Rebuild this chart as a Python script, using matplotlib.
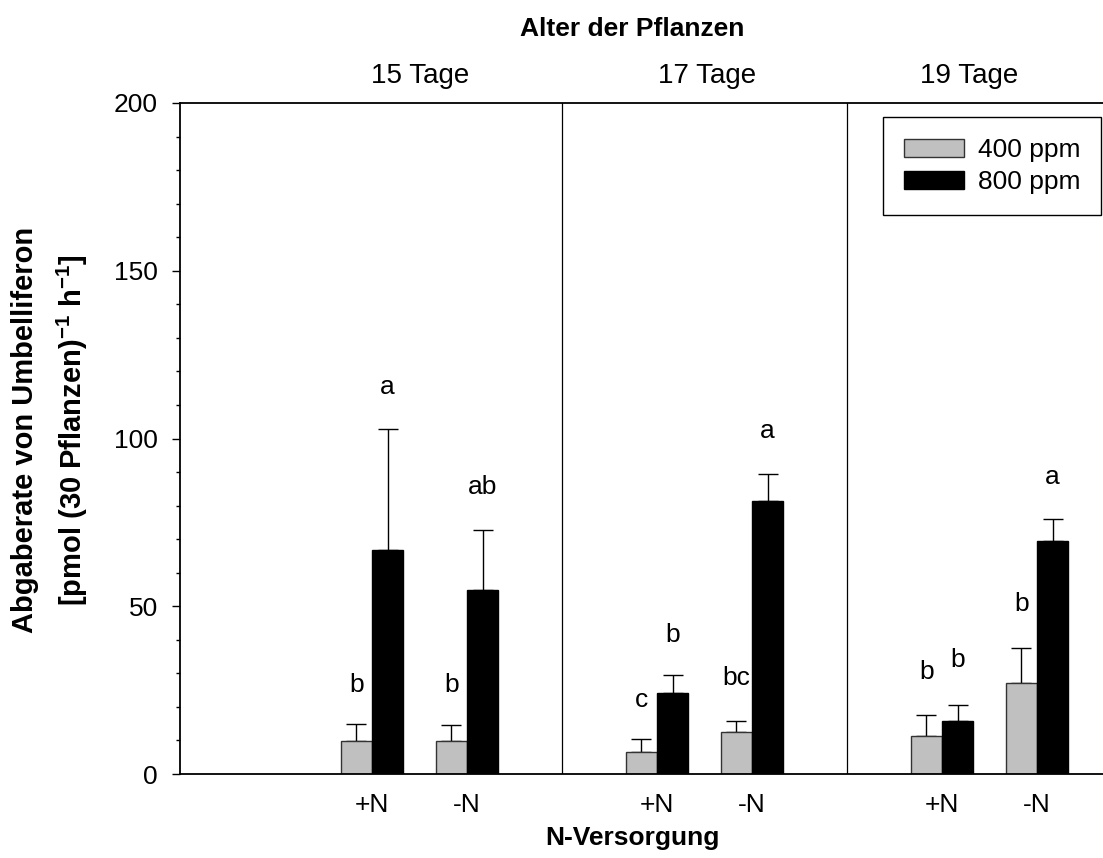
import numpy as np
import matplotlib
matplotlib.use("Agg")
from matplotlib import pyplot as plt
from matplotlib.patches import Patch
from matplotlib.transforms import blended_transform_factory

plt.rcParams['font.family'] = ['Liberation Sans', 'DejaVu Sans']
plt.rcParams['mathtext.fontset'] = 'custom'
plt.rcParams['mathtext.rm'] = 'Liberation Sans'
plt.rcParams['mathtext.bf'] = 'Liberation Sans:bold'

# data
ages = ['15 Tage', '17 Tage', '19 Tage']
n_labels = ['+N', '-N', '+N', '-N', '+N', '-N']
ppm400 = [9.8, 9.8, 6.5, 12.5, 11.4, 27.0]
ppm400_err = [5.1, 4.8, 3.8, 3.4, 6.2, 10.5]
ppm800 = [66.8, 54.9, 24.0, 81.5, 15.7, 69.4]
ppm800_err = [36.0, 17.9, 5.5, 8.0, 4.9, 6.6]
letters400 = ['b', 'b', 'c', 'bc', 'b', 'b']
letters800 = ['a', 'ab', 'b', 'a', 'b', 'a']
letters400_y = [26.5, 26.5, 22.0, 28.5, 30.5, 50.6]
letters800_y = [115.3, 85.5, 41.4, 102.3, 34.0, 88.6]

pos = np.array([0, 1, 3, 4, 6, 7])   # bar pair positions
dividers = [2, 5]
age_x = [0.505, 3.53, 6.29]
w = 0.33

fig = plt.figure(figsize=(11.03, 8.58), dpi=100)
ax = fig.add_axes([180/1103, 84/858, 923/1103, 671/858])

zero = np.zeros(len(pos))
ax.bar(pos - w/2, ppm400, w, color='#c0c0c0', edgecolor='#333333', linewidth=1.0, zorder=2)
ax.bar(pos + w/2, ppm800, w, color='black', edgecolor='black', linewidth=1.0, zorder=2)
ax.errorbar(pos - w/2, ppm400, yerr=[zero, ppm400_err], fmt='none', ecolor='black',
            elinewidth=1.0, capsize=7.5, capthick=1.0, zorder=1)
ax.errorbar(pos + w/2, ppm800, yerr=[zero, ppm800_err], fmt='none', ecolor='black',
            elinewidth=1.0, capsize=7.5, capthick=1.0, zorder=1)

for i in range(len(pos)):
    ax.text(pos[i] - w/2, letters400_y[i], letters400[i], ha='center', va='center', fontsize=19)
    ax.text(pos[i] + w/2, letters800_y[i], letters800[i], ha='center', va='center', fontsize=19)

for d in dividers:
    ax.axvline(d, color='black', linewidth=0.9)

ax.set_xlim(-2.021, 7.695)
ax.set_ylim(0, 200)
ax.set_yticks([0, 50, 100, 150, 200])
ax.set_yticks(np.arange(0, 201, 10), minor=True)
ax.set_xticks(pos)
ax.set_xticklabels(n_labels)
ax.tick_params(axis='y', which='major', length=6, width=1.0, pad=10, labelsize=19)
ax.tick_params(axis='y', which='minor', length=3, width=1.0)
ax.tick_params(axis='x', length=0, pad=14, labelsize=19)
ax.spines['right'].set_visible(False)
for s in ['left', 'bottom', 'top']:
    ax.spines[s].set_linewidth(1.3)

# top labels
trans = blended_transform_factory(ax.transData, fig.transFigure)
for x, t in zip(age_x, ages):
    ax.text(x, 1 - 83/858, t, transform=trans, ha='center', va='baseline', fontsize=20)
fig.text(632/1103, 1 - 29/858, 'Alter der Pflanzen', ha='center', va='center',
         fontsize=19, fontweight='bold')
fig.text(632/1103, 1 - 838/858, 'N-Versorgung', ha='center', va='center',
         fontsize=19, fontweight='bold')
fig.text(25/1103, 1 - 430/858, 'Abgaberate von Umbelliferon', rotation=90,
         ha='center', va='center', fontsize=21, fontweight='bold')
fig.text(72/1103, 1 - 430/858, r'[pmol (30 Pflanzen)$^{\mathbf{-1}}$ h$^{\mathbf{-1}}$]',
         rotation=90, ha='center', va='center', fontsize=21, fontweight='bold')

handles = [Patch(facecolor='#c0c0c0', edgecolor='#333333', label='400 ppm'),
           Patch(facecolor='black', edgecolor='black', label='800 ppm')]
leg = ax.legend(handles=handles, loc='upper right', bbox_to_anchor=(0.998, 0.979),
                borderaxespad=0, fontsize=19, fancybox=False, framealpha=1,
                edgecolor='black', handlelength=2.3, handleheight=0.7,
                handletextpad=0.5, borderpad=0.8, labelspacing=0.3)
leg.get_frame().set_linewidth(1.0)

fig.savefig('out.png', dpi=100)
